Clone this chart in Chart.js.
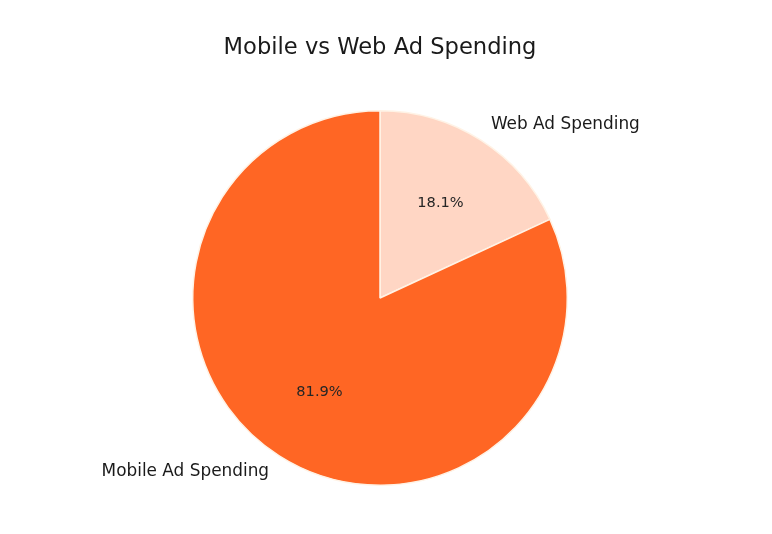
<!DOCTYPE html>
<html>
<head>
<meta charset="utf-8">
<script src="https://cdn.jsdelivr.net/npm/chart.js@4/dist/chart.umd.min.js"></script>
<style>
html,body{margin:0;padding:0;background:#fff;}
#wrap{width:772px;height:534px;position:relative;}
</style>
</head>
<body>
<div id="wrap"><canvas id="c" width="772" height="534"></canvas></div>
<script>
const chartTitle = "Mobile vs Web Ad Spending";
const categories = ["Web Ad Spending", "Mobile Ad Spending"];
const shares = [18.1, 81.9];
const sliceColors = ["#FFD6C4", "#FF6624"];

const FONT = "'DejaVu Sans', sans-serif";

const labelPlugin = {
  id: 'pieLabels',
  afterDatasetsDraw(chart) {
    const ctx = chart.ctx;
    const meta = chart.getDatasetMeta(0);
    ctx.save();
    meta.data.forEach((arc, i) => {
      const p = arc.getProps(['x','y','startAngle','endAngle','outerRadius'], true);
      const mid = (p.startAngle + p.endAngle) / 2;
      const r = p.outerRadius;
      ctx.fillStyle = '#262626';
      ctx.font = '14.6px ' + FONT;
      ctx.textAlign = 'center';
      ctx.textBaseline = 'middle';
      ctx.fillText(shares[i].toFixed(1) + '%', p.x + Math.cos(mid) * r * 0.6, p.y + Math.sin(mid) * r * 0.6);
      const lx = p.x + Math.cos(mid) * r * 1.1;
      const ly = p.y + Math.sin(mid) * r * 1.1;
      ctx.fillStyle = '#1a1a1a';
      ctx.font = '16.9px ' + FONT;
      ctx.textAlign = Math.cos(mid) >= 0 ? 'left' : 'right';
      ctx.fillText(categories[i], lx, ly);
    });
    ctx.fillStyle = '#1a1a1a';
    ctx.font = '22.6px ' + FONT;
    ctx.textAlign = 'center';
    ctx.textBaseline = 'middle';
    ctx.fillText(chartTitle, 380, 48);
    ctx.restore();
  }
};

new Chart(document.getElementById('c'), {
  type: 'pie',
  data: {
    labels: categories,
    datasets: [{
      data: shares,
      backgroundColor: sliceColors,
      borderColor: '#FFF3E6',
      borderWidth: 1.5
    }]
  },
  options: {
    responsive: false,
    animation: false,
    rotation: 0,
    layout: { padding: { top: 110, bottom: 48, left: 0, right: 12 } },
    plugins: {
      legend: { display: false },
      title: { display: false },
      tooltip: { enabled: false }
    }
  },
  plugins: [labelPlugin]
});
</script>
</body>
</html>
